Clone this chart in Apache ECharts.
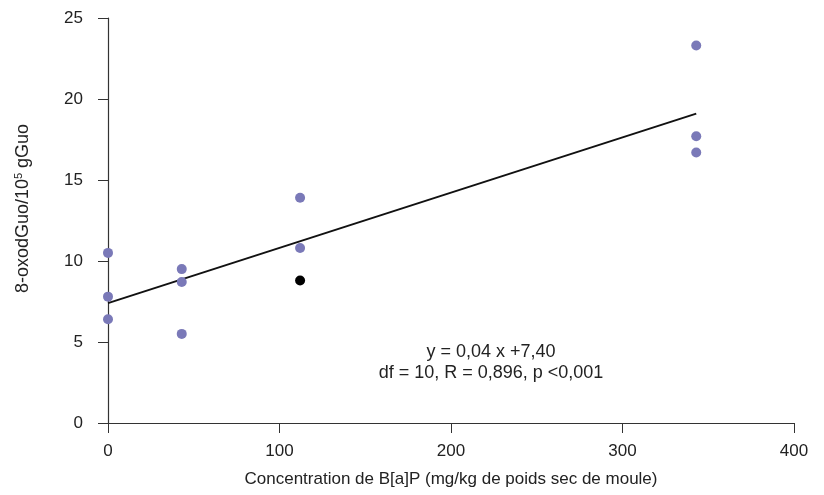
<!DOCTYPE html>
<html>
<head>
<meta charset="utf-8">
<script src="https://cdn.jsdelivr.net/npm/echarts@6/dist/echarts.min.js"></script>
<style>
  html, body { margin: 0; padding: 0; background: #fff; }
  #main { width: 824px; height: 495px; }
</style>
</head>
<body>
<div id="main"></div>
<script>
// points mesurés (concentration B[a]P, 8-oxodGuo)
const purplePoints = [
  [0, 10.5], [0, 7.8], [0, 6.4],
  [43, 9.5], [43, 8.7], [43, 5.5],
  [112, 13.9], [112, 10.8],
  [343, 23.3], [343, 17.7], [343, 16.7]
];
const blackPoints = [[112, 8.8]];
// droite de régression telle que tracée
const trendLine = [[0, 7.4], [343, 19.1]];
const xTicks = [0, 100, 200, 300, 400];
const yTicks = [0, 5, 10, 15, 20, 25];
const annotation = ['y = 0,04 x +7,40', 'df = 10, R = 0,896, p <0,001'];

const font = '"Liberation Sans", Arial, sans-serif';
const myChart = echarts.init(document.getElementById('main'));

let axisLabel = {
  color: '#222',
  fontSize: 17,
  fontFamily: font
};

let option = {
  animation: false,
  grid: { left: 108, right: 30, top: 18, bottom: 72 },
  xAxis: {
    type: 'value',
    min: xTicks[0],
    max: xTicks[xTicks.length - 1],
    interval: 100,
    name: 'Concentration de B[a]P (mg/kg de poids sec de moule)',
    nameLocation: 'middle',
    nameGap: 48,
    nameTextStyle: { color: '#222', fontSize: 17, fontFamily: font },
    axisLine: { lineStyle: { color: '#333', width: 1.2 } },
    axisTick: { show: true, length: 10, lineStyle: { color: '#333' } },
    axisLabel: Object.assign({ margin: 20 }, axisLabel),
    splitLine: { show: false }
  },
  yAxis: {
    type: 'value',
    min: yTicks[0],
    max: yTicks[yTicks.length - 1],
    interval: 5,
    name: '8-oxodGuo/10{sup|5} gGuo',
    nameLocation: 'middle',
    nameGap: 75,
    nameTextStyle: {
      color: '#222', fontSize: 18, fontFamily: font,
      padding: [0, 0, 0, 24],
      rich: { sup: { fontSize: 11, verticalAlign: 'top', padding: [0, 0, 9, 0], color: '#222', fontFamily: font } }
    },
    axisLine: { show: true, lineStyle: { color: '#333', width: 1.2 } },
    axisTick: { show: true, length: 10, lineStyle: { color: '#333' } },
    axisLabel: Object.assign({ margin: 25 }, axisLabel),
    splitLine: { show: false }
  },
  graphic: [
    {
      type: 'text',
      x: 491,
      y: 342,
      style: {
        text: annotation.join('\n'),
        align: 'center',
        fill: '#222',
        font: '18px ' + font,
        lineHeight: 21
      }
    }
  ],
  series: [
    {
      name: 'droite',
      type: 'line',
      data: trendLine,
      showSymbol: false,
      lineStyle: { color: '#111', width: 2 },
      z: 1
    },
    {
      name: 'points',
      type: 'scatter',
      data: purplePoints,
      symbolSize: 10,
      itemStyle: { color: '#7a79b8', opacity: 1 },
      z: 2
    },
    {
      name: 'point noir',
      type: 'scatter',
      data: blackPoints,
      symbolSize: 10,
      itemStyle: { color: '#000', opacity: 1 },
      z: 2
    }
  ]
};
myChart.setOption(option);
</script>
</body>
</html>
